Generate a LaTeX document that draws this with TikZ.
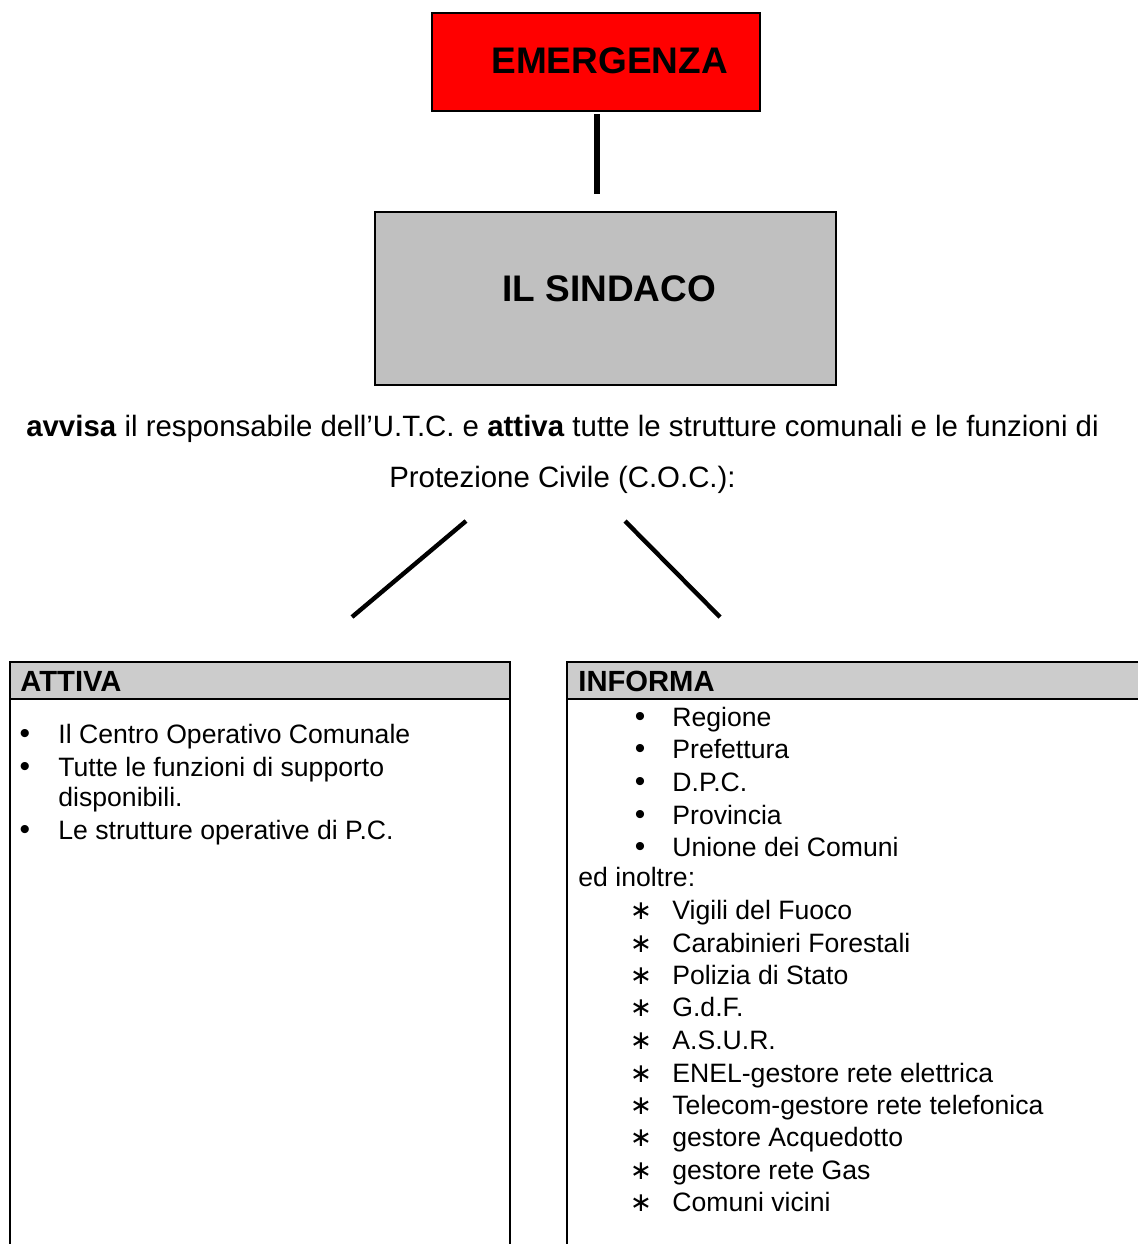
\documentclass[tikz,border=0pt]{standalone}
\usepackage{fontspec}
\setmainfont{Liberation Sans}
\newfontfamily\djv{DejaVu Sans}
\definecolor{emred}{RGB}{255,0,0}
\definecolor{sindgray}{RGB}{192,192,192}
\definecolor{headgray}{RGB}{204,204,204}
\begin{document}
\begin{tikzpicture}[x=0.5pt,y=-0.5pt,
  body/.style={inner sep=0pt,anchor=base west,font=\fontsize{13.3}{16}\selectfont},
  mid/.style={inner sep=0pt,anchor=base,font=\fontsize{14.7}{18}\selectfont},
  bul/.style={inner sep=0pt,anchor=base,font=\fontsize{15}{16}\selectfont},
  star/.style={inner sep=0pt,anchor=base,font=\djv\fontsize{13.3}{16}\selectfont},
  head/.style={inner sep=0pt,anchor=base west,font=\fontsize{14.6}{16}\selectfont\bfseries},
  title/.style={inner sep=0pt,anchor=base west,font=\fontsize{18.5}{22}\selectfont\bfseries},
  frame/.style={line width=1pt,draw=black},
  conn/.style={line width=2.4pt,draw=black}]
\useasboundingbox (0,0) rectangle (1137,1244);
\fill[white] (0,0) rectangle (1137,1244);

% EMERGENZA
\node[frame,fill=emred,rectangle,minimum width=164pt,minimum height=49pt,inner sep=0pt] (emergenza) at (596,62) {};
\node[title] (emtext) at (491,73) {EMERGENZA};

% IL SINDACO
\node[frame,fill=sindgray,rectangle,minimum width=230.5pt,minimum height=86.5pt,inner sep=0pt] (sindaco) at (605.5,298.5) {};
\node[title] (sindtext) at (502,301) {IL SINDACO};

\draw[conn,line width=2.6pt,shorten <=1pt,shorten >=8.5pt] ([xshift=0.5pt]emergenza.south) -- ([xshift=0.5pt]emergenza.south |- sindaco.north);

% middle text
\node[mid] (avvisa) at (562.5,436.5) {\textbf{avvisa} il responsabile dell’U.T.C. e \textbf{attiva} tutte le strutture comunali e le funzioni di};
\node[mid] (protezione) at (562.5,487.5) {Protezione Civile (C.O.C.):};

% diagonal connectors
\coordinate (l1) at (466,521);
\coordinate (l2) at (352,617);
\coordinate (r1) at (625,521);
\coordinate (r2) at (720,617);
\draw[conn,line width=2.2pt] (l1) -- (l2);
\draw[conn,line width=2.2pt] (r1) -- (r2);

% ATTIVA box
\fill[headgray] (10,662) rectangle (510,699);
\draw[frame] (10,1250) -- (10,662) -- (510,662) -- (510,1250);
\draw[frame] (10,699) -- (510,699);
\node[head] (attiva) at (20,691) {ATTIVA};
\node[bul] (ab1) at (25,743.5) {•};
\node[body] (a1) at (58,743.5) {Il Centro Operativo Comunale};
\node[bul] (ab2) at (25,776.5) {•};
\node[body] (a2) at (58,776.5) {Tutte le funzioni di supporto};
\node[body] (a2b) at (58,806.5) {disponibili.};
\node[bul] (ab3) at (25,839.5) {•};
\node[body] (a3) at (58,839.5) {Le strutture operative di P.C.};

% INFORMA box
\fill[headgray] (567,662) rectangle (1140,699);
\draw[frame] (567,1250) -- (567,662) -- (1140,662);
\draw[frame] (567,699) -- (1140,699);
\node[head] (informa) at (578,691) {INFORMA};
\foreach \t/\y [count=\i] in {Regione/726.5,Prefettura/758.5,D.P.C./791.5,Provincia/824.5,Unione dei Comuni/856.5}{
  \node[bul] (ib\i) at (640,\y) {•};
  \node[body] (i\i) at (672,\y) {\t};
}
\node[body] (inoltre) at (578,886.5) {ed inoltre:};
\foreach \t/\y [count=\i] in {Vigili del Fuoco/919.5,Carabinieri Forestali/952,Polizia di Stato/984.5,G.d.F./1016.5,A.S.U.R./1049.5,ENEL-gestore rete elettrica/1082,Telecom-gestore rete telefonica/1114.5,gestore Acquedotto/1146.5,gestore rete Gas/1179,Comuni vicini/1211.5}{
  \node[star] (sb\i) at (641,\y) {∗};
  \node[body] (s\i) at (672,\y) {\t};
}
\end{tikzpicture}
\end{document}
